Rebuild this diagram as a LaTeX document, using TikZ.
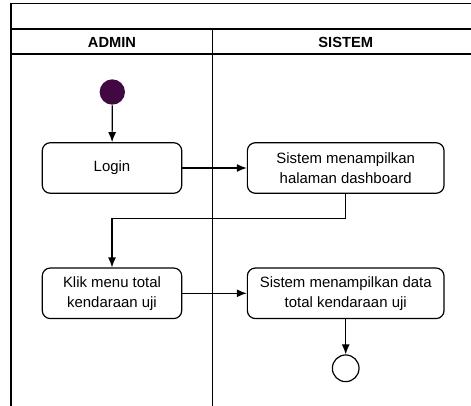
\documentclass[tikz,border=0pt]{standalone}
\usepackage{fontspec}
\setmainfont{Liberation Sans}
\usetikzlibrary{arrows.meta}
\definecolor{startfill}{RGB}{66,8,66}
\begin{document}
\begin{tikzpicture}[x=0.75pt,y=-0.75pt,line width=0.9pt,
    action/.style={draw,rounded corners=6pt,align=center,minimum height=37.9pt,
      font=\fontsize{11.2}{15}\selectfont},
    lane/.style={font=\fontsize{11}{13}\selectfont\bfseries},
    flow/.style={-{Latex[length=7.5pt,width=6pt]}}]
  \useasboundingbox (0,0) rectangle (471,406);
  % Swimlanes
  \draw (11,406) -- (11,3.5) -- (471,3.5);
  \draw (11,29) -- (471,29);
  \draw (11,54) -- (471,54);
  \draw (212.7,29) -- (212.7,406);
  \node[lane] (admin) at (112,42) {ADMIN};
  \node[lane] (sistem) at (345.7,42) {SISTEM};
  % Start and end
  \node[circle,fill=startfill,minimum size=19pt,inner sep=0pt] (start) at (112.3,92) {};
  \node[circle,draw,fill=white,minimum size=20pt,inner sep=0pt] (end) at (345.7,368.3) {};
  % Actions
  \node[action,minimum width=104.6pt] (login) at (112,168) {Login};
  \node[action,minimum width=147.5pt] (dashboard) at (345.7,168)
    {Sistem menampilkan\\halaman dashboard};
  \node[action,minimum width=104.6pt] (klik) at (112,293.3)
    {Klik menu total\\kendaraan uji};
  \node[action,minimum width=147.5pt] (total) at (345.7,293.3)
    {Sistem menampilkan data\\total kendaraan uji};
  % Flows
  \coordinate (turn) at (345.7,218.3);
  \draw[flow] (start) -- (login);
  \draw[flow] (login) -- (dashboard);
  \draw[flow] (dashboard) -- (turn) -| (klik);
  \draw[flow] (klik) -- (total);
  \draw[flow] (total) -- (end);
\end{tikzpicture}
\end{document}
